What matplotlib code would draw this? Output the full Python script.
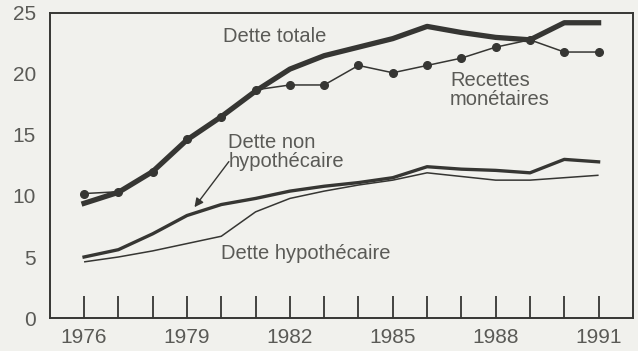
import numpy as np
import matplotlib.pyplot as plt

plt.rcParams['font.family'] = ['Liberation Sans', 'DejaVu Sans']

years = list(range(1976, 1992))
dette_totale = [9.4, 10.3, 12.0, 14.6, 16.5, 18.6, 20.4, 21.5, 22.2, 22.9, 23.9, 23.4, 23.0, 22.8, 24.2, 24.2]
recettes = [10.2, 10.35, 12.0, 14.7, 16.5, 18.7, 19.1, 19.1, 20.7, 20.1, 20.7, 21.3, 22.2, 22.8, 21.8, 21.8]
dette_non_hyp = [5.0, 5.6, 6.9, 8.4, 9.3, 9.8, 10.4, 10.8, 11.1, 11.5, 12.4, 12.2, 12.1, 11.9, 13.0, 12.8]
dette_hyp = [4.6, 5.0, 5.5, 6.1, 6.7, 8.7, 9.8, 10.4, 10.9, 11.3, 11.9, 11.6, 11.3, 11.3, 11.5, 11.7]
year_labels = [1976, 1979, 1982, 1985, 1988, 1991]
y_ticks = [0, 5, 10, 15, 20, 25]

bg = '#f1f1ed'
ink = '#363633'
txt = '#5a5a56'

fig = plt.figure(figsize=(6.38, 3.51), dpi=100, facecolor=bg)
ax = fig.add_axes([0.078, 0.094, 0.914, 0.869], facecolor=bg)

ax.plot(years, dette_hyp, color=ink, lw=1.1, solid_capstyle='butt')
ax.plot(years, dette_non_hyp, color=ink, lw=2.4, solid_joinstyle='round')
ax.plot(years, recettes, color=ink, lw=1.1, marker='o', ms=5.5)
ax.plot(years, dette_totale, color=ink, lw=3.8, solid_joinstyle='round')

ax.set_xlim(1975, 1992)
ax.set_ylim(0, 25)

# ticks on the bottom every year, labels every third year
ax.set_xticks(years)
ax.set_xticklabels([str(y) if y in year_labels else '' for y in years])
ax.tick_params(axis='x', direction='in', length=16, width=1.3, color=ink,
               labelsize=15, labelcolor=txt, pad=7)

ax.set_yticks(y_ticks)
ax.tick_params(axis='y', direction='in', length=13, width=1.3, color=ink,
               labelsize=15, labelcolor=txt, pad=10, right=True)
for t in ax.yaxis.get_major_ticks():
    if t.get_loc() in (0, 25):
        t.tick1line.set_visible(False)
        t.tick2line.set_visible(False)

for s in ax.spines.values():
    s.set_color(ink)
    s.set_linewidth(1.4)

fs = 14.5
ax.text(1981.55, 23.1, 'Dette totale', color=txt, fontsize=fs, ha='center', va='center')
ax.text(1986.67, 18.7, 'Recettes\nmonétaires', color=txt, fontsize=fs, ha='left', va='center',
        linespacing=1.0)
ax.text(1980.2, 13.6, 'Dette non\nhypothécaire', color=txt, fontsize=fs, ha='left', va='center',
        linespacing=1.0)
ax.text(1980.0, 5.3, 'Dette hypothécaire', color=txt, fontsize=fs, ha='left', va='center')
ax.annotate('', xy=(1979.17, 8.9), xytext=(1980.27, 13.0),
            arrowprops=dict(arrowstyle='-|>', color=ink, lw=1.0, mutation_scale=13))

fig.savefig('out.png', dpi=100, facecolor=bg)
